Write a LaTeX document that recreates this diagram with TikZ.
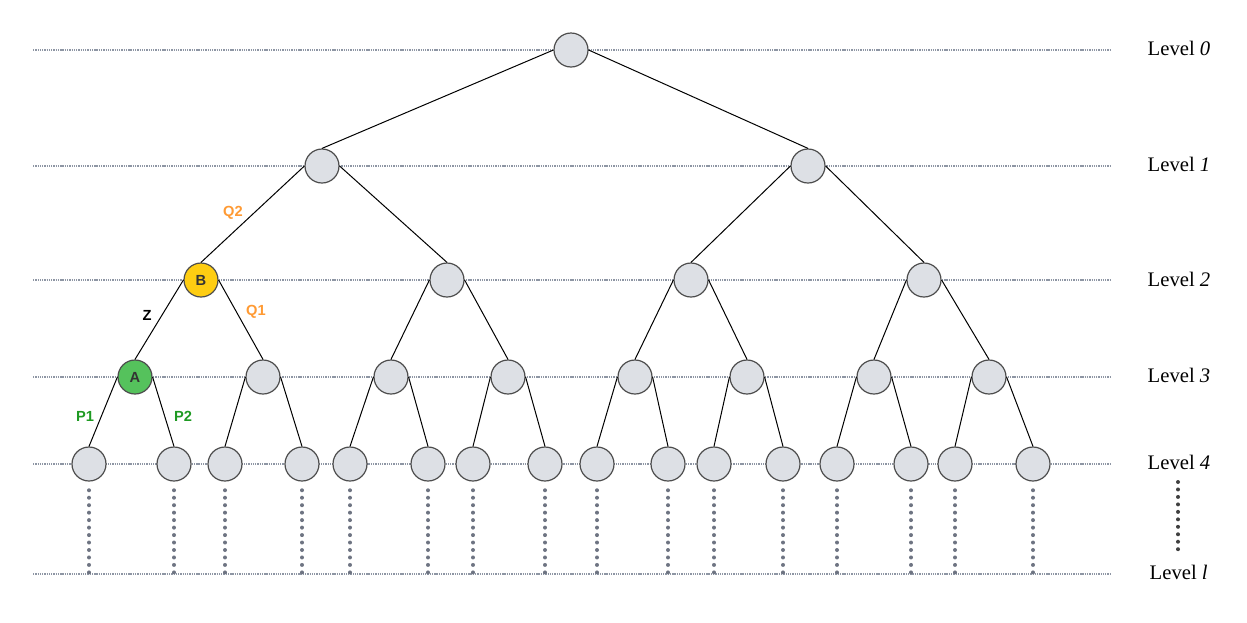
\documentclass[tikz,border=0pt]{standalone}
\usepackage{fontspec}
\newfontfamily\lblfont{Liberation Sans}
\newfontfamily\lvlfont{Liberation Serif}
\definecolor{nodefill}{HTML}{DDE0E5}
\definecolor{nodeline}{HTML}{4D4D4D}
\definecolor{gridc}{HTML}{8E96A4}
\definecolor{dotc}{HTML}{6E7482}
\definecolor{qorange}{HTML}{FF9A33}
\definecolor{pgreen}{HTML}{1E9A22}
\definecolor{afill}{HTML}{55C25C}
\definecolor{bfill}{HTML}{FECD12}
\begin{document}
\begin{tikzpicture}[x=0.75pt,y=-0.75pt,
  tn/.style={circle,draw=nodeline,fill=nodefill,line width=0.9pt,minimum size=25.5pt,inner sep=0pt,font=\lblfont\bfseries\fontsize{11}{13}\selectfont,text=black!80},
  grid/.style={draw=gridc,line width=0.85pt,dash pattern=on 1pt off 0.7pt},
  vdots/.style={draw=dotc,line width=3pt,line cap=round,dash pattern=on 0pt off 5.6pt},
  edge/.style={draw=black,line width=0.75pt},
  lvl/.style={font=\lvlfont\fontsize{15.5}{18}\selectfont,anchor=west},
  elab/.style={font=\lblfont\bfseries\fontsize{11}{13}\selectfont}]
\useasboundingbox (0,0) rectangle (1247,622);
% horizontal level lines
\foreach \y/\n in {50/0,166/1,280/2,377/3,464/4,574/l}{
  \coordinate (gl\n) at (33,\y);
  \coordinate (gr\n) at (1110,\y);
  \draw[grid] (gl\n) -- (gr\n);
}
% nodes
\node[tn] (r) at (571,50) {};
\node[tn] (a1) at (322,166) {};
\node[tn] (a2) at (808,166) {};
\node[tn,fill=bfill] (b1) at (201,280) {B};
\node[tn] (b2) at (447,280) {};
\node[tn] (b3) at (691,280) {};
\node[tn] (b4) at (924,280) {};
\node[tn,fill=afill] (c1) at (135,377) {A};
\node[tn] (c2) at (263,377) {};
\node[tn] (c3) at (391,377) {};
\node[tn] (c4) at (508,377) {};
\node[tn] (c5) at (635,377) {};
\node[tn] (c6) at (747,377) {};
\node[tn] (c7) at (874,377) {};
\node[tn] (c8) at (989,377) {};
\foreach \i/\x in {1/89,2/174,3/225,4/302,5/350,6/428,7/473,8/545,9/597,10/668,11/714,12/783,13/837,14/911,15/955,16/1033}{
  \node[tn] (d\i) at (\x,464) {};
  \coordinate (e\i) at (\x,574);
  \draw[vdots] ([yshift=-6.5pt]d\i.south) -- (e\i);
}
% edges
\draw[edge] (r.west) -- (a1.north);
\draw[edge] (r.east) -- (a2.north);
\draw[edge] (a1.west) -- (b1.north);
\draw[edge] (a1.east) -- (b2.north);
\draw[edge] (a2.west) -- (b3.north);
\draw[edge] (a2.east) -- (b4.north);
\foreach \p/\l/\r in {b1/c1/c2,b2/c3/c4,b3/c5/c6,b4/c7/c8}{
  \draw[edge] (\p.west) -- (\l.north);
  \draw[edge] (\p.east) -- (\r.north);
}
\foreach \p/\l/\r in {c1/d1/d2,c2/d3/d4,c3/d5/d6,c4/d7/d8,c5/d9/d10,c6/d11/d12,c7/d13/d14,c8/d15/d16}{
  \draw[edge] (\p.west) -- (\l.north);
  \draw[edge] (\p.east) -- (\r.north);
}
% edge labels
\node[elab,text=qorange] (q2) at (233,213) {Q2};
\node[elab,text=qorange] (q1) at (256,312) {Q1};
\node[elab,text=black] (z) at (147,315) {Z};
\node[elab,text=pgreen] (p1) at (85,416) {P1};
\node[elab,text=pgreen] (p2) at (183,416) {P2};
% level labels
\node[lvl] (l0) at (1143,48) {Level \textit{0}};
\node[lvl] (l1) at (1143,164) {Level \textit{1}};
\node[lvl] (l2) at (1143,279) {Level \textit{2}};
\node[lvl] (l3) at (1143,375) {Level \textit{3}};
\node[lvl] (l4) at (1143,462) {Level \textit{4}};
\node[lvl] (ll) at (1145,572) {Level \textit{l}};
\coordinate (vt) at (1178,482);
\coordinate (vb) at (1178,551);
\draw[vdots,draw=black!75] (vt) -- (vb);
\end{tikzpicture}
\end{document}
